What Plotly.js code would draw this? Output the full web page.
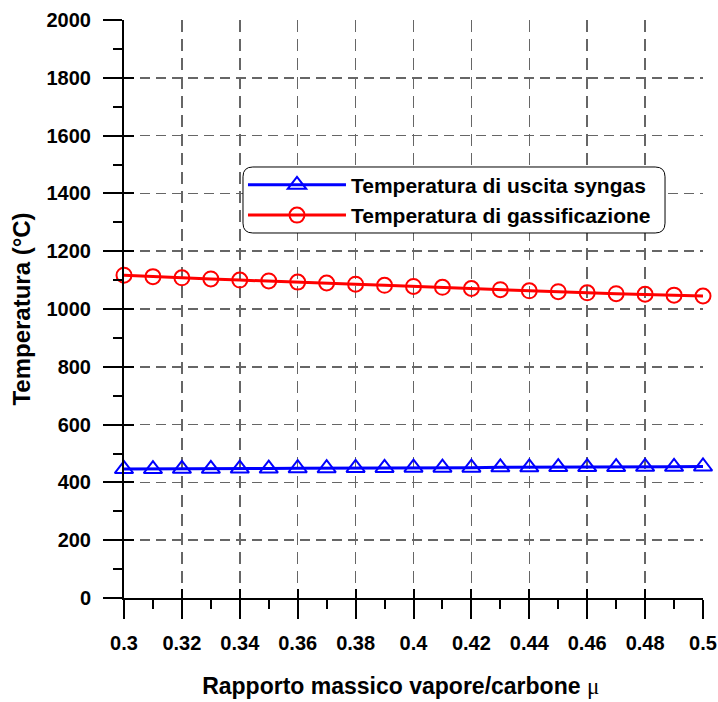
<!DOCTYPE html>
<html><head><meta charset="utf-8">
<script src="https://cdn.plot.ly/plotly-3.0.1.min.js"></script>
<style>body{margin:0;background:#fff}</style>
</head><body>
<div id="chart" style="width:718px;height:702px"></div>
<script>
// Data
const ratio = [0.30,0.31,0.32,0.33,0.34,0.35,0.36,0.37,0.38,0.39,0.40,0.41,0.42,0.43,0.44,0.45,0.46,0.47,0.48,0.49,0.50];
const syngasOutletTemp = [446,446,447,447,448,448,449,449,450,450,451,451,451,452,452,453,453,453,454,454,455];
const gasificationTemp = [1117,1112,1108,1104,1100,1097,1093,1090,1086,1082,1078,1075,1071,1067,1063,1060,1056,1053,1051,1048,1045];
const seriesNames = ['Temperatura di uscita syngas','Temperatura di gassificazione'];
const xTitle = "Rapporto massico vapore/carbone <span style='font-family:Liberation Serif;font-weight:normal'>μ</span>&nbsp;&nbsp;&nbsp;&nbsp;";
const yTitle = 'Temperatura (°C)';
const xRange = [0.3, 0.5];
const yRange = [0, 2000];

const FONT = 'Liberation Sans, Arial, sans-serif';
const gridColor = '#666666';

const traces = [
  {x: ratio, y: syngasOutletTemp, name: seriesNames[0], mode: 'lines+markers', cliponaxis: false,
   line: {color: '#0000ff', width: 3},
   marker: {symbol: 'triangle-up-open', size: 16, color: '#0000ff', line: {width: 2, color: '#0000ff'}}},
  {x: ratio, y: gasificationTemp, name: seriesNames[1], mode: 'lines+markers', cliponaxis: false,
   line: {color: '#ff0000', width: 3},
   marker: {symbol: 'circle-open', size: 15, color: '#ff0000', line: {width: 2, color: '#ff0000'}}},
  // invisible helper so the overlay axes (inner halves of the crossing major ticks) are drawn
  {x: [ratio[0]], y: [syngasOutletTemp[0]], xaxis: 'x2', yaxis: 'y2', mode: 'markers',
   marker: {opacity: 0, size: 1}, showlegend: false, hoverinfo: 'skip'}
];

// rounded legend frame (paper coords)
const bx0 = 0.2055, bx1 = 0.9344, byT = 0.7457, byB = 0.6315, r = 0.017;
const framePath = `M${bx0+r},${byT} L${bx1-r},${byT} Q${bx1},${byT} ${bx1},${byT-r} L${bx1},${byB+r} Q${bx1},${byB} ${bx1-r},${byB} L${bx0+r},${byB} Q${bx0},${byB} ${bx0},${byB+r} L${bx0},${byT-r} Q${bx0},${byT} ${bx0+r},${byT} Z`;

const layout = {
  width: 718, height: 702,
  margin: {l: 124, r: 15, t: 20, b: 104, autoexpand: false},
  paper_bgcolor: '#fff', plot_bgcolor: '#fff',
  font: {family: FONT, color: '#000', size: 20, weight: 'bold'},
  showlegend: true,
  legend: {x: 0.2055, y: 0.7497, xanchor: 'left', yanchor: 'top', bgcolor: 'rgba(0,0,0,0)', borderwidth: 0,
           font: {family: FONT, size: 21, weight: 'bold', color: '#000'}, itemwidth: 98, tracegroupgap: 0},
  xaxis: {range: xRange, tick0: 0.3, dtick: 0.02, ticks: 'outside', ticklen: 19, tickwidth: 2, tickcolor: '#000',
          showline: true, linewidth: 2, linecolor: '#000', zeroline: false, automargin: true,
          showgrid: true, gridcolor: gridColor, gridwidth: 1.5, griddash: '12px,7px',
          tickfont: {family: FONT, size: 20, weight: 'bold'}, ticklabelstandoff: 7,
          minor: {dtick: 0.01, ticks: 'outside', ticklen: 9, tickwidth: 2, tickcolor: '#000', showgrid: false},
          title: {text: xTitle, font: {family: FONT, size: 23, weight: 'bold'}, standoff: 25}},
  yaxis: {range: yRange, tick0: 0, dtick: 200, ticks: 'outside', ticklen: 19, tickwidth: 2, tickcolor: '#000',
          showline: true, linewidth: 2, linecolor: '#000', zeroline: false, automargin: true,
          showgrid: true, gridcolor: gridColor, gridwidth: 1.5, griddash: '10px,6px',
          tickfont: {family: FONT, size: 20, weight: 'bold'}, ticklabelstandoff: 8,
          minor: {dtick: 100, ticks: 'outside', ticklen: 9, tickwidth: 2, tickcolor: '#000', showgrid: false},
          title: {text: yTitle, font: {family: FONT, size: 24, weight: 'bold'}, standoff: 9}},
  xaxis2: {overlaying: 'x', anchor: 'y2', side: 'bottom', range: xRange, tick0: 0.3, dtick: 0.02,
           ticks: 'inside', ticklen: 9, tickwidth: 2, tickcolor: '#000', showticklabels: false,
           showgrid: false, showline: false, zeroline: false},
  yaxis2: {overlaying: 'y', anchor: 'x2', side: 'left', range: yRange, tick0: 0, dtick: 200,
           ticks: 'inside', ticklen: 10, tickwidth: 2, tickcolor: '#000', showticklabels: false,
           showgrid: false, showline: false, zeroline: false},
  shapes: [
    {type: 'path', xref: 'paper', yref: 'paper', path: framePath, layer: 'above',
     fillcolor: '#fff', line: {color: '#000', width: 1}}
  ]
};

Plotly.newPlot('chart', traces, layout, {staticPlot: true, displayModeBar: false});
</script>
</body></html>
